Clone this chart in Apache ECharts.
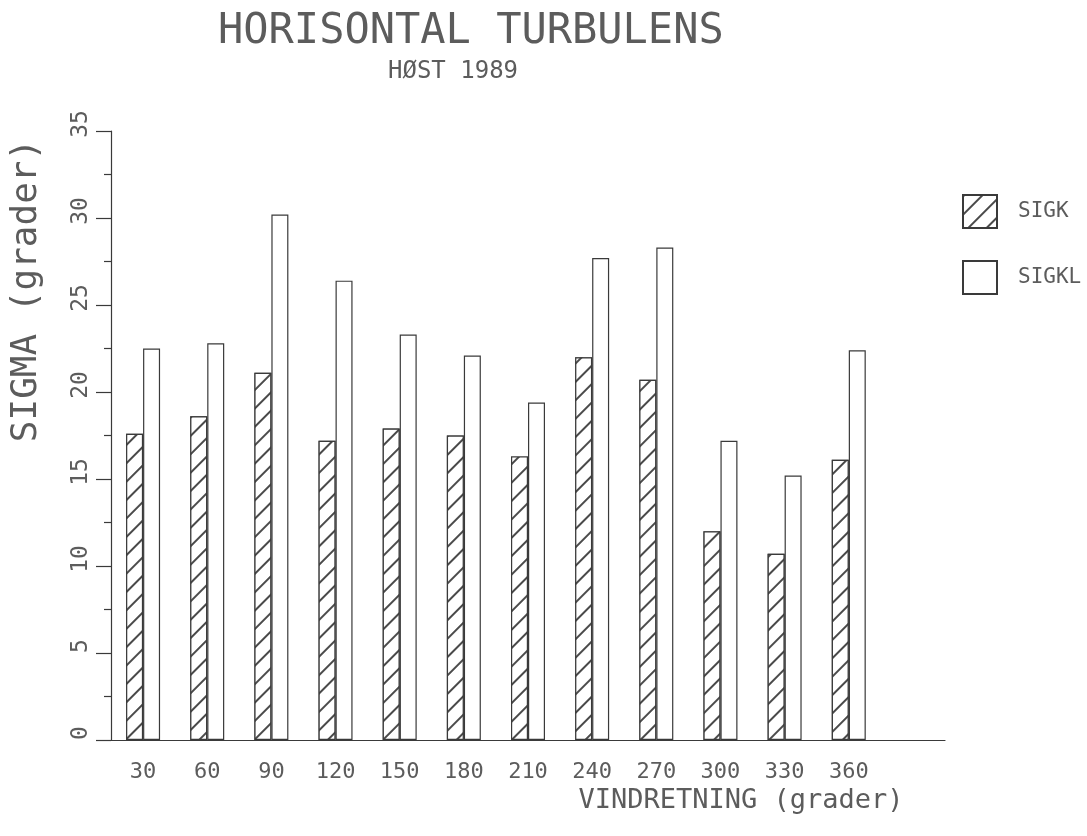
<!DOCTYPE html>
<html>
<head>
<meta charset="utf-8">
<script src="https://cdn.jsdelivr.net/npm/echarts@6/dist/echarts.min.js"></script>
<style>
html,body{margin:0;padding:0;background:#fff;}
#chart{width:1087px;height:836px;}
</style>
</head>
<body>
<div id="chart"></div>
<script>
const titleText = 'HORISONTAL TURBULENS';
const subtitleText = 'HØST 1989';
const categories = ['30','60','90','120','150','180','210','240','270','300','330','360'];
const sigk  = [17.6, 18.6, 21.1, 17.2, 17.9, 17.5, 16.3, 22.0, 20.7, 12.0, 10.7, 16.1];
const sigkl = [22.5, 22.8, 30.2, 26.4, 23.3, 22.1, 19.4, 27.7, 28.3, 17.2, 15.2, 22.4];
const seriesNames = ['SIGK', 'SIGKL'];
const xName = 'VINDRETNING (grader)';
const yName = 'SIGMA (grader)';
const yMin = 0, yMax = 35, yInterval = 5;

const FONT = '"DejaVu Sans Mono", monospace';
const INK = '#3a3a3a';
const TXT = '#5c5c5c';

const chart = echarts.init(document.getElementById('chart'), null, {renderer: 'canvas'});
chart.setOption({
  backgroundColor: '#ffffff',
  animation: false,
  title: [
    { text: titleText, left: 218, top: 11, padding: 0,
      textStyle: { fontFamily: FONT, fontSize: 42, fontWeight: 'normal', color: TXT } },
    { text: subtitleText, left: 388, top: 60, padding: 0,
      textStyle: { fontFamily: FONT, fontSize: 24, fontWeight: 'normal', color: TXT } }
  ],
  legend: {
    orient: 'vertical',
    left: 957, top: 189,
    itemWidth: 34, itemHeight: 33, itemGap: 31,
    icon: 'rect',
    data: seriesNames,
    textStyle: { fontFamily: FONT, fontSize: 21, color: TXT, padding: [0,0,0,16] }
  },
  grid: { left: 111, right: 142, top: 131, bottom: 96, containLabel: false },
  xAxis: {
    type: 'category',
    data: categories.concat(['']),
    axisLine: { show: true, lineStyle: { color: INK, width: 1.2 } },
    axisTick: { show: false },
    axisLabel: { fontFamily: FONT, fontSize: 22, color: TXT, margin: 21, interval: 0 },
    name: xName,
    nameLocation: 'middle',
    nameGap: 47,
    nameTextStyle: { fontFamily: FONT, fontSize: 27, color: TXT, padding: [0,0,0,426] },
    splitLine: { show: false }
  },
  yAxis: {
    type: 'value',
    min: yMin, max: yMax, interval: yInterval,
    axisLine: { show: true, lineStyle: { color: INK, width: 1.2 } },
    axisTick: { show: true, length: 15, lineStyle: { color: INK, width: 1.2 } },
    minorTick: { show: true, splitNumber: 2, length: 7, lineStyle: { color: INK, width: 1.2 } },
    axisLabel: { fontFamily: FONT, fontSize: 23, color: TXT, rotate: 90, margin: 18, padding: [0,0,0,14] },
    splitLine: { show: false },
    minorSplitLine: { show: false },
    name: yName,
    nameLocation: 'middle',
    nameGap: 66,
    nameRotate: 90,
    nameTextStyle: { fontFamily: FONT, fontSize: 36, color: TXT, padding: [0,0,0,290] }
  },
  series: [
    {
      name: seriesNames[0], type: 'bar', data: sigk,
      barWidth: 17, barGap: '0%',
      itemStyle: {
        color: '#ffffff', borderColor: INK, borderWidth: 1.2,
        decal: { symbol: 'rect', symbolSize: 1, dashArrayX: [1, 0], dashArrayY: [1.2, 11], rotation: -Math.PI / 4, color: '#4a4a4a', backgroundColor: '#ffffff' }
      }
    },
    {
      name: seriesNames[1], type: 'bar', data: sigkl,
      barWidth: 17,
      itemStyle: { color: '#ffffff', borderColor: INK, borderWidth: 1.2 }
    }
  ]
});
</script>
</body>
</html>
